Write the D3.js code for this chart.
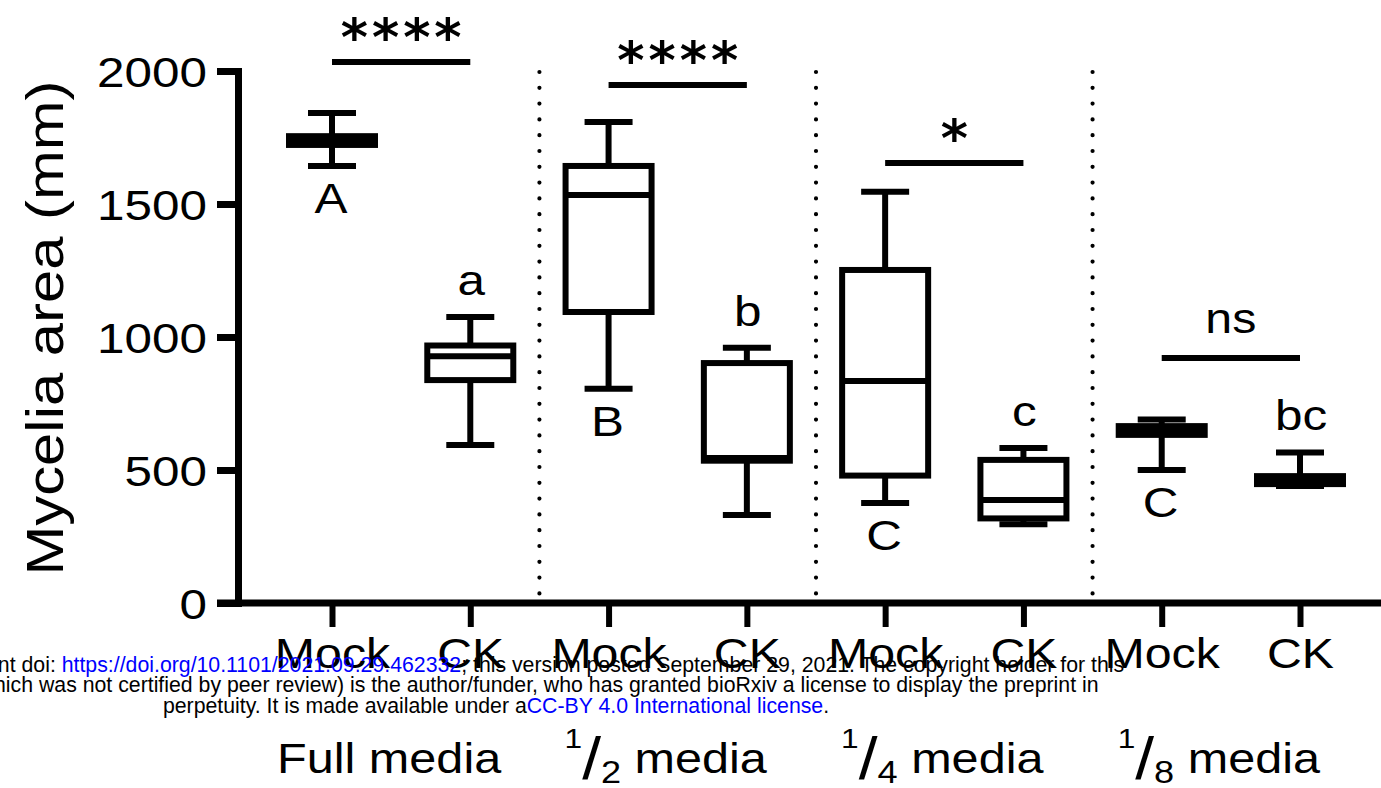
<!DOCTYPE html>
<html><head><meta charset="utf-8">
<script src="https://cdn.jsdelivr.net/npm/d3@7"></script>
<style>html,body{margin:0;padding:0;background:#fff;overflow:hidden}
text{font-family:"Liberation Sans",Arial,Helvetica,sans-serif;fill:#000}</style>
</head><body><svg id="chart" width="1381" height="788"></svg>
<script>
// ---------------- data ----------------
const categories = ["Full-Mock","Full-CK","Half-Mock","Half-CK","Quarter-Mock","Quarter-CK","Eighth-Mock","Eighth-CK"];
const tickLabels = ["Mock","CK","Mock","CK","Mock","CK","Mock","CK"];
const boxMin    = [1643,  594,  805,  331,  376, 296, 500, 440];
const boxQ1     = [1722,  838, 1094,  535,  479, 318, 632, 447];
const boxMedian = [1740,  928, 1534,  545,  835, 387, 650, 460];
const boxQ3     = [1755,  968, 1643,  902, 1252, 538, 665, 477];
const boxMax    = [1842, 1075, 1808,  960, 1546, 583, 690, 566];
const letters   = ["A","a","B","b","C","c","C","bc"];
const groupNumerators   = ["", "1", "1", "1"];
const groupDenominators = ["", "2", "4", "8"];
const groupWords        = ["Full media", " media", " media", " media"];
const sigLabels = ["****","****","*","ns"];
const sigLevels = [2034, 1947, 1654, 921];
const yTicks = [0, 500, 1000, 1500, 2000];
const yTitle = "Mycelia area (mm)";
const wmLine1 = [["bioRxiv preprint doi: ","#000"],["https://doi.org/10.1101/2021.09.29.462332","#0000ff"],["; this version posted September 29, 2021. The copyright holder for this","#000"]];
const wmLine2 = [["preprint (which was not certified by peer review) is the author/funder, who has granted bioRxiv a license to display the preprint in","#000"]];
const wmLine3 = [["perpetuity. It is made available under a","#000"],["CC-BY 4.0 International license","#0000ff"],[".","#000"]];

// ---------------- layout ----------------
const svg = d3.select("#chart");
const SX = 1.15;          // horizontal text stretch of the original figure
const y = d3.scaleLinear().domain([0, 2000]).range([603, 71]);
const x = d3.scalePoint().domain(categories).range([332, 1300]);
const axisX = 238;

// dotted group dividers
const dividers = [1, 3, 5].map(i => (x(categories[i]) + x(categories[i + 1])) / 2);
svg.append("g").selectAll("line").data(dividers).join("line")
  .attr("x1", d => d).attr("x2", d => d)
  .attr("y1", y(2000) + 1).attr("y2", y(0))
  .attr("stroke", "#000").attr("stroke-width", 4.2)
  .attr("stroke-linecap", "round").attr("stroke-dasharray", "0,15.8");

// y axis
const gy = svg.append("g").attr("transform", `translate(${axisX},0)`)
  .call(d3.axisLeft(y).tickValues(yTicks).tickSize(21).tickSizeOuter(21).tickFormat(d3.format("d")));
gy.select(".domain").attr("stroke-width", 7).attr("stroke-linejoin", "miter");
gy.selectAll(".tick line").attr("stroke-width", 7);
gy.selectAll(".tick text")
  .attr("x", null).attr("dy", null)
  .attr("transform", `translate(-31,15) scale(${SX},1)`)
  .attr("text-anchor", "end")
  .style("font-size", "43px").style("font-family", "'Liberation Sans',Arial,sans-serif");

// x axis line
svg.append("line").attr("x1", axisX - 21).attr("x2", 1381).attr("y1", y(0)).attr("y2", y(0))
  .attr("stroke", "#000").attr("stroke-width", 7);
const gx = svg.append("g").attr("transform", `translate(0,${y(0)})`)
  .call(d3.axisBottom(x).tickSize(24).tickSizeOuter(0).tickFormat((d, i) => tickLabels[i]));
gx.select(".domain").remove();
gx.selectAll(".tick line").attr("stroke-width", 6);
gx.selectAll(".tick text")
  .attr("y", null).attr("dy", null)
  .attr("transform", `translate(0,65) scale(${SX},1)`)
  .style("font-size", "42px").style("font-family", "'Liberation Sans',Arial,sans-serif");

// y title
svg.append("text")
  .attr("transform", `translate(63,328) rotate(-90) scale(${SX},1)`)
  .attr("text-anchor", "middle").style("font-size", "52px").text(yTitle);

// boxes
const boxW = 86, capW = 48, lw = 6;
const boxes = svg.append("g").selectAll("g").data(categories).join("g")
  .attr("transform", d => `translate(${x(d)},0)`);
boxes.append("line").attr("x1", 0).attr("x2", 0)
  .attr("y1", (d, i) => y(boxMax[i])).attr("y2", (d, i) => y(boxQ3[i]))
  .attr("stroke", "#000").attr("stroke-width", lw);
boxes.append("line").attr("x1", 0).attr("x2", 0)
  .attr("y1", (d, i) => y(boxQ1[i])).attr("y2", (d, i) => y(boxMin[i]))
  .attr("stroke", "#000").attr("stroke-width", lw);
boxes.append("line").attr("x1", -capW / 2).attr("x2", capW / 2)
  .attr("y1", (d, i) => y(boxMax[i])).attr("y2", (d, i) => y(boxMax[i]))
  .attr("stroke", "#000").attr("stroke-width", lw);
boxes.append("line").attr("x1", -capW / 2).attr("x2", capW / 2)
  .attr("y1", (d, i) => y(boxMin[i])).attr("y2", (d, i) => y(boxMin[i]))
  .attr("stroke", "#000").attr("stroke-width", lw);
boxes.append("rect").attr("x", -boxW / 2).attr("width", boxW)
  .attr("y", (d, i) => y(boxQ3[i])).attr("height", (d, i) => y(boxQ1[i]) - y(boxQ3[i]))
  .attr("fill", "#fff").attr("stroke", "#000").attr("stroke-width", lw);
boxes.append("line").attr("x1", -boxW / 2).attr("x2", boxW / 2)
  .attr("y1", (d, i) => y(boxMedian[i])).attr("y2", (d, i) => y(boxMedian[i]))
  .attr("stroke", "#000").attr("stroke-width", lw);

// compact letter labels
boxes.append("text")
  .attr("text-anchor", "middle").style("font-size", "43px")
  .attr("transform", (d, i) => i % 2 === 0
      ? `translate(-1,${y(boxMin[i]) + 47}) scale(${SX},1)`
      : `translate(1,${y(boxMax[i]) - 22}) scale(${SX},1)`)
  .text((d, i) => letters[i]);

// significance bars
const sig = svg.append("g").selectAll("g").data(sigLabels).join("g");
sig.append("line")
  .attr("x1", (d, i) => x(categories[2 * i])).attr("x2", (d, i) => x(categories[2 * i + 1]))
  .attr("y1", (d, i) => y(sigLevels[i])).attr("y2", (d, i) => y(sigLevels[i]))
  .attr("stroke", "#000").attr("stroke-width", 6);
sig.append("text")
  .attr("text-anchor", "middle")
  .attr("transform", (d, i) => {
    const cx = (x(categories[2 * i]) + x(categories[2 * i + 1])) / 2;
    return d === "ns" ? `translate(${cx},${y(sigLevels[i]) - 25}) scale(${SX},1)`
                      : `translate(${cx + 2},${y(sigLevels[i]) - 7})`;
  })
  .style("font-family", d => d === "ns" ? "'Liberation Sans',Arial,sans-serif" : "'DejaVu Sans',sans-serif")
  .style("font-weight", d => d === "ns" ? "normal" : "bold")
  .style("font-size", d => d === "ns" ? "42px" : "52px")
  .style("letter-spacing", d => d === "ns" ? "0px" : "4px")
  .text(d => d);

// group labels
const groupMid = [0, 1, 2, 3].map(g => (x(categories[2 * g]) + x(categories[2 * g + 1])) / 2 - 12);
const gl = svg.append("g").selectAll("text").data(groupWords).join("text")
  .attr("text-anchor", "middle")
  .attr("transform", (d, i) => `translate(${groupMid[i]},773) scale(1.13,1)`)
  .style("font-size", "43px");
gl.each(function (d, i) {
  const t = d3.select(this);
  if (groupNumerators[i]) {
    t.append("tspan").style("font-size", "28px").attr("dy", -25).text(groupNumerators[i]);
    t.append("tspan").style("font-size", "60px").attr("dy", 31).text("/");
    t.append("tspan").style("font-size", "32px").attr("dy", 4).text(groupDenominators[i]);
    t.append("tspan").attr("dy", -10).text(d);
  } else {
    t.text(d);
  }
});

// bioRxiv watermark overlay
const wm = svg.append("g");
const wmLines = [wmLine1, wmLine2, wmLine3];
const wmBase = [672, 692, 713];
const wmTexts = wm.selectAll("text").data(wmLines).join("text")
  .attr("text-anchor", "middle")
  .style("font-size", "21.5px");
wmTexts.each(function (parts) {
  d3.select(this).selectAll("tspan").data(parts).join("tspan")
    .style("fill", p => p[1]).text(p => p[0]);
});
const w3 = wmTexts.filter((d, i) => i === 2).node().getComputedTextLength();
const wmScale = 667 / w3;
wmTexts.attr("transform", (d, i) => `translate(496,${wmBase[i]}) scale(${wmScale},1)`);
</script></body></html>
